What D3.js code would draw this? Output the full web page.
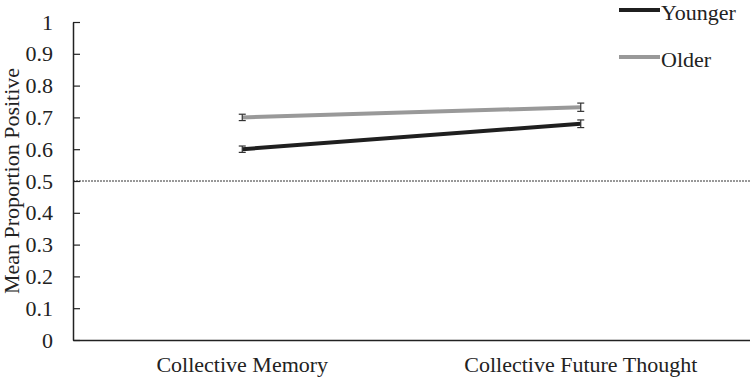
<!DOCTYPE html>
<html><head><meta charset="utf-8">
<script src="https://cdn.jsdelivr.net/npm/d3@7"></script>
<style>body{margin:0;background:#fff}svg{display:block}svg text{font-family:'Liberation Serif','Times New Roman',serif !important;}</style>
</head><body><svg id="c" width="750" height="379"></svg>
<script>
const categories = ["Collective Memory", "Collective Future Thought"];
const seriesNames = ["Younger", "Older"];
const youngerValues = [0.60, 0.68];
const olderValues = [0.70, 0.732];
const youngerErrors = [0.010, 0.012];
const olderErrors = [0.010, 0.013];
const yTicks = [0,0.1,0.2,0.3,0.4,0.5,0.6,0.7,0.8,0.9,1];
const referenceValue = 0.5;
const colors = ["#1f1f1f", "#999999"];

(function(){
const svg = d3.select("#c");
const fs = 22;
const mLeft = 73, mRight = 750, mTop = 22, mBottom = 340;
const x = d3.scaleBand().domain(categories).range([mLeft, mRight]);
const y = d3.scaleLinear().domain([0, 1]).range([mBottom, mTop]);

// reference line
svg.append("line").attr("x1", mLeft).attr("x2", mRight)
  .attr("y1", y(referenceValue)).attr("y2", y(referenceValue))
  .attr("stroke", "#333").attr("stroke-width", 1).attr("stroke-dasharray", "2,1");

// y axis
const yAxis = d3.axisLeft(y).tickValues(yTicks).tickFormat(d => d3.format("")(d)).tickSizeInner(-7).tickSizeOuter(0).tickPadding(20);
const ya = svg.append("g").attr("transform", `translate(${mLeft},0)`).call(yAxis);
ya.select(".domain").attr("stroke", "#222").attr("stroke-width", 1.5);
ya.selectAll(".tick line").attr("stroke", "#222").attr("stroke-width", 1.2);
ya.selectAll(".tick text").attr("font-size", fs).attr("fill", "#222");

// x axis
const xAxis = d3.axisBottom(x).tickSize(0).tickSizeOuter(0).tickPadding(16);
const xa = svg.append("g").attr("transform", `translate(0,${mBottom})`).call(xAxis);
xa.select(".domain").attr("stroke", "#222").attr("stroke-width", 1.5);
xa.selectAll(".tick text").attr("font-size", fs).attr("fill", "#222");

// y title
svg.append("text").attr("transform", `translate(18.5,${(mTop+mBottom)/2}) rotate(-90)`)
  .attr("text-anchor", "middle").attr("font-size", fs).attr("fill", "#222")
  .text("Mean Proportion Positive");

const series = [
  {name: seriesNames[0], values: youngerValues, errs: youngerErrors, color: colors[0]},
  {name: seriesNames[1], values: olderValues, errs: olderErrors, color: colors[1]}
];
const cx = c => x(c) + x.bandwidth()/2;
const line = d3.line().x((d,i) => cx(categories[i])).y(d => y(d));

series.forEach(s => {
  svg.append("path").datum(s.values).attr("d", line).attr("fill", "none")
    .attr("stroke", s.color).attr("stroke-width", 4);
  categories.forEach((c, i) => {
    const g = svg.append("g").attr("stroke", "#333").attr("stroke-width", 1.2);
    const xc = cx(c), y1 = y(s.values[i] + s.errs[i]), y0 = y(s.values[i] - s.errs[i]);
    g.append("line").attr("x1", xc).attr("x2", xc).attr("y1", y1).attr("y2", y0);
    g.append("line").attr("x1", xc-3.5).attr("x2", xc+3.5).attr("y1", y1).attr("y2", y1);
    g.append("line").attr("x1", xc-3.5).attr("x2", xc+3.5).attr("y1", y0).attr("y2", y0);
  });
});

// legend
const lg = svg.append("g");
series.forEach((s, i) => {
  const yy = 10 + i * 47;
  lg.append("line").attr("x1", 619).attr("x2", 660).attr("y1", yy).attr("y2", yy)
    .attr("stroke", s.color).attr("stroke-width", 4);
  lg.append("text").attr("x", 661).attr("y", yy + 10).attr("font-size", fs)
    .attr("fill", "#222").text(s.name);
});
})();
</script></body></html>
